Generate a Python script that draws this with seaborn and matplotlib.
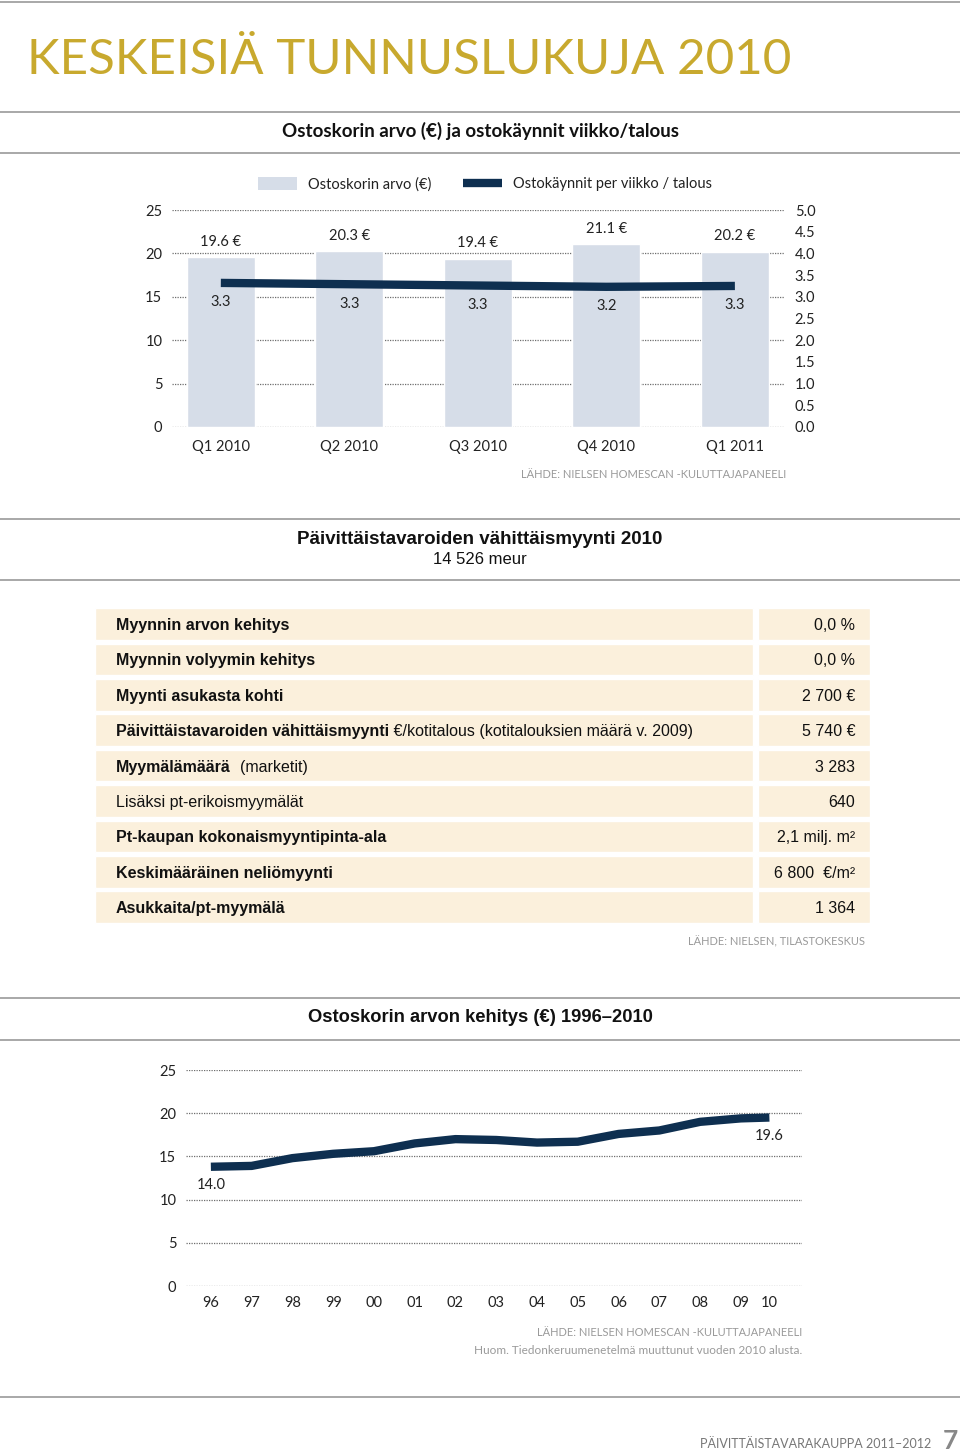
import numpy as np
import matplotlib
matplotlib.use("Agg")
import matplotlib.pyplot as plt
import seaborn as sns
from matplotlib.patches import Patch
from matplotlib.lines import Line2D
from matplotlib.ticker import FormatStrFormatter

# --- data -------------------------------------------------------------
quarters = ["Q1 2010", "Q2 2010", "Q3 2010", "Q4 2010", "Q1 2011"]
basket_value = [19.6, 20.3, 19.4, 21.1, 20.2]
visits_per_week = [3.32, 3.29, 3.26, 3.23, 3.25]
visit_labels = ["3.3", "3.3", "3.3", "3.2", "3.3"]

row_bold = ["Myynnin arvon kehitys", "Myynnin volyymin kehitys", "Myynti asukasta kohti",
            "Päivittäistavaroiden vähittäismyynti", "Myymälämäärä", "",
            "Pt-kaupan kokonaismyyntipinta-ala", "Keskimääräinen neliömyynti",
            "Asukkaita/pt-myymälä"]
row_normal = ["", "", "", " €/kotitalous (kotitalouksien määrä v. 2009)", "  (marketit)",
              "Lisäksi pt-erikoismyymälät", "", "", ""]
row_values = ["0,0 %", "0,0 %", "2 700 €", "5 740 €", "3 283", "640",
              "2,1 milj. m²", "6 800  €/m²", "1 364"]

years = ["96", "97", "98", "99", "00", "01", "02", "03", "04", "05",
         "06", "07", "08", "09", "10"]
# 2010 sits closer to 2009 on the original axis
year_x = [1996, 1997, 1998, 1999, 2000, 2001, 2002, 2003, 2004, 2005,
          2006, 2007, 2008, 2009, 2009.7]
basket_hist = [13.8, 13.9, 14.8, 15.3, 15.6, 16.5, 17.0, 16.9, 16.6, 16.7,
               17.6, 18.0, 19.0, 19.4, 19.5]
hist_labels = ["14.0", "19.6"]

# --- style ------------------------------------------------------------
W, H = 960, 1452
bar_col = "#d6dde8"
navy = "#0e2f50"
gold = "#c8a92e"
beige = "#fbf0dc"
sep_col = "#a8a8a8"
src_col = "#9a9a9a"
grid_col = "#6e6e6e"

sns.set_theme(style="white")
plt.rcParams['font.family'] = ['Lato', 'DejaVu Sans']
tbl_font = ['Liberation Sans', 'DejaVu Sans']


def rect(l, t, r, b):
    return [l / W, 1 - b / H, (r - l) / W, (b - t) / H]


def fy(y):
    return 1 - y / H


fig = plt.figure(figsize=(9.6, 14.52), dpi=100)
fig.patch.set_facecolor("white")

# separators
for y in [2, 112, 153, 519, 580, 998, 1040, 1397]:
    fig.add_artist(Line2D([0, 1], [fy(y), fy(y)], color=sep_col, lw=1.4))

fig.text(27 / W, fy(60), "KESKEISIÄ TUNNUSLUKUJA 2010", color=gold, fontsize=35.5,
         va='center', ha='left')

fig.text(0.5, fy(131), "Ostoskorin arvo (€) ja ostokäynnit viikko/talous",
         fontsize=13.5, fontweight='bold', ha='center', va='center', color='#111')

# --- top chart --------------------------------------------------------
ax1 = fig.add_axes(rect(172, 210, 785, 427))
sns.barplot(x=quarters, y=basket_value, color=bar_col, saturation=1, width=0.53, ax=ax1)
ax1.set_ylim(0, 25)
ax1.set_yticks(range(0, 26, 5))
ax1.grid(axis='y', ls=(0, (1, 1)), color=grid_col, lw=0.9)
ax1.set_axisbelow(True)
ax1.set_xlabel("")
ax1.set_ylabel("")
ax1.tick_params(axis='y', length=0, labelsize=10.5, pad=7, colors='#222')
ax1.tick_params(axis='x', length=0, labelsize=10.5, pad=9, colors='#222')
for s in ax1.spines.values():
    s.set_visible(False)
for i, v in enumerate(basket_value):
    ax1.annotate(f"{v} €", (i, v), xytext=(0, 11), textcoords='offset points',
                 ha='center', va='center', fontsize=10.5, color='#222')

ax2 = ax1.twinx()
sns.lineplot(x=np.arange(len(quarters)), y=visits_per_week, color=navy, lw=6,
             solid_capstyle='butt', ax=ax2)
ax2.set_ylim(0, 5)
ax2.set_yticks(np.arange(0, 5.01, 0.5))
ax2.yaxis.set_major_formatter(FormatStrFormatter('%.1f'))
ax2.grid(False)
ax2.set_ylabel("")
ax2.tick_params(axis='y', length=0, labelsize=10.5, pad=7, colors='#222')
for s in ax2.spines.values():
    s.set_visible(False)
for i, (v, lb) in enumerate(zip(visits_per_week, visit_labels)):
    ax2.annotate(lb, (i, v), xytext=(0, -14), textcoords='offset points',
                 ha='center', va='center', fontsize=10.5, color='#222')
ax1.set_xlim(-0.38, 4.39)

fig.legend(handles=[Patch(facecolor=bar_col, edgecolor='none', label="Ostoskorin arvo (€)"),
                    Line2D([0], [0], color=navy, lw=6, solid_capstyle='butt',
                           label="Ostokäynnit per viikko / talous")],
           loc='center left', bbox_to_anchor=(258 / W, fy(184)), ncol=2, frameon=False,
           handlelength=2.7, handleheight=1.0, handletextpad=0.7, columnspacing=2.2,
           borderpad=0, borderaxespad=0, fontsize=10.5, labelcolor='#222')

fig.text(786 / W, fy(475), "LÄHDE: NIELSEN HOMESCAN -KULUTTAJAPANEELI", color=src_col,
         fontsize=8, ha='right', va='center')

# --- key figures table ------------------------------------------------
fig.text(0.5, fy(539), "Päivittäistavaroiden vähittäismyynti 2010", fontsize=13.5,
         fontweight='bold', family=tbl_font, ha='center', va='center', color='#111')
fig.text(0.5, fy(560), "14 526 meur", fontsize=12, family=tbl_font,
         ha='center', va='center', color='#111')

n = len(row_values)
ax_t = fig.add_axes(rect(95, 606.3, 870, 606.3 + 35.4 * n))
rows = np.arange(n)
ax_t.barh(rows, [0.849] * n, left=0, height=0.89, color=beige)
ax_t.barh(rows, [0.145] * n, left=0.855, height=0.89, color=beige)
ax_t.set_xlim(0, 1)
ax_t.set_ylim(n - 0.5, -0.5)
ax_t.axis('off')
for i in rows:
    x0 = 0.027
    if row_bold[i]:
        tb = ax_t.text(x0, i + 0.04, row_bold[i], fontsize=11.5, fontweight='bold',
                       family=tbl_font, va='center', ha='left', color='#111')
        if row_normal[i]:
            ax_t.annotate(row_normal[i], xy=(1, 0.5), xycoords=tb, fontsize=11.5,
                          family=tbl_font, va='center', ha='left', color='#111')
    else:
        ax_t.text(x0, i + 0.04, row_normal[i], fontsize=11.5, family=tbl_font,
                  va='center', ha='left', color='#111')
    ax_t.text(0.981, i + 0.04, row_values[i], fontsize=11.5, family=tbl_font,
              va='center', ha='right', color='#111')

fig.text(865 / W, fy(942), "LÄHDE: NIELSEN, TILASTOKESKUS", color=src_col,
         fontsize=8, ha='right', va='center')

# --- history chart ----------------------------------------------------
fig.text(0.5, fy(1018), "Ostoskorin arvon kehitys (€) 1996–2010", fontsize=13.2,
         fontweight='bold', family=tbl_font, ha='center', va='center', color='#111')

ax3 = fig.add_axes(rect(186, 1070, 802, 1286))
sns.lineplot(x=year_x, y=basket_hist, color=navy, lw=6, solid_capstyle='butt', ax=ax3)
ax3.set_xlim(1995.39, 2010.5)
ax3.set_ylim(0, 25)
ax3.set_yticks(range(0, 26, 5))
ax3.set_xticks(year_x)
ax3.set_xticklabels(years)
ax3.grid(axis='y', ls=(0, (1, 1)), color=grid_col, lw=0.9)
ax3.grid(axis='x', visible=False)
ax3.set_axisbelow(True)
ax3.set_xlabel("")
ax3.set_ylabel("")
ax3.tick_params(axis='y', length=0, labelsize=10.5, pad=7, colors='#222')
ax3.tick_params(axis='x', length=0, labelsize=10.5, pad=7, colors='#222')
for s in ax3.spines.values():
    s.set_visible(False)
for idx, lb in zip([0, -1], hist_labels):
    ax3.annotate(lb, (year_x[idx], basket_hist[idx]), xytext=(0, -13),
                 textcoords='offset points', ha='center', va='center',
                 fontsize=10.5, color='#222')

fig.text(802 / W, fy(1333), "LÄHDE: NIELSEN HOMESCAN -KULUTTAJAPANEELI", color=src_col,
         fontsize=8, ha='right', va='center')
fig.text(802 / W, fy(1350), "Huom. Tiedonkeruumenetelmä muuttunut vuoden 2010 alusta.",
         color=src_col, fontsize=8.5, ha='right', va='center')

# footer
fig.text(931 / W, fy(1444), "PÄIVITTÄISTAVARAKAUPPA 2011–2012", color='#777',
         fontsize=9, ha='right', va='center')
fig.text(958 / W, fy(1441), "7", color='#888', fontsize=19, fontweight='bold',
         ha='right', va='center')

fig.savefig("out.png", dpi=100)
